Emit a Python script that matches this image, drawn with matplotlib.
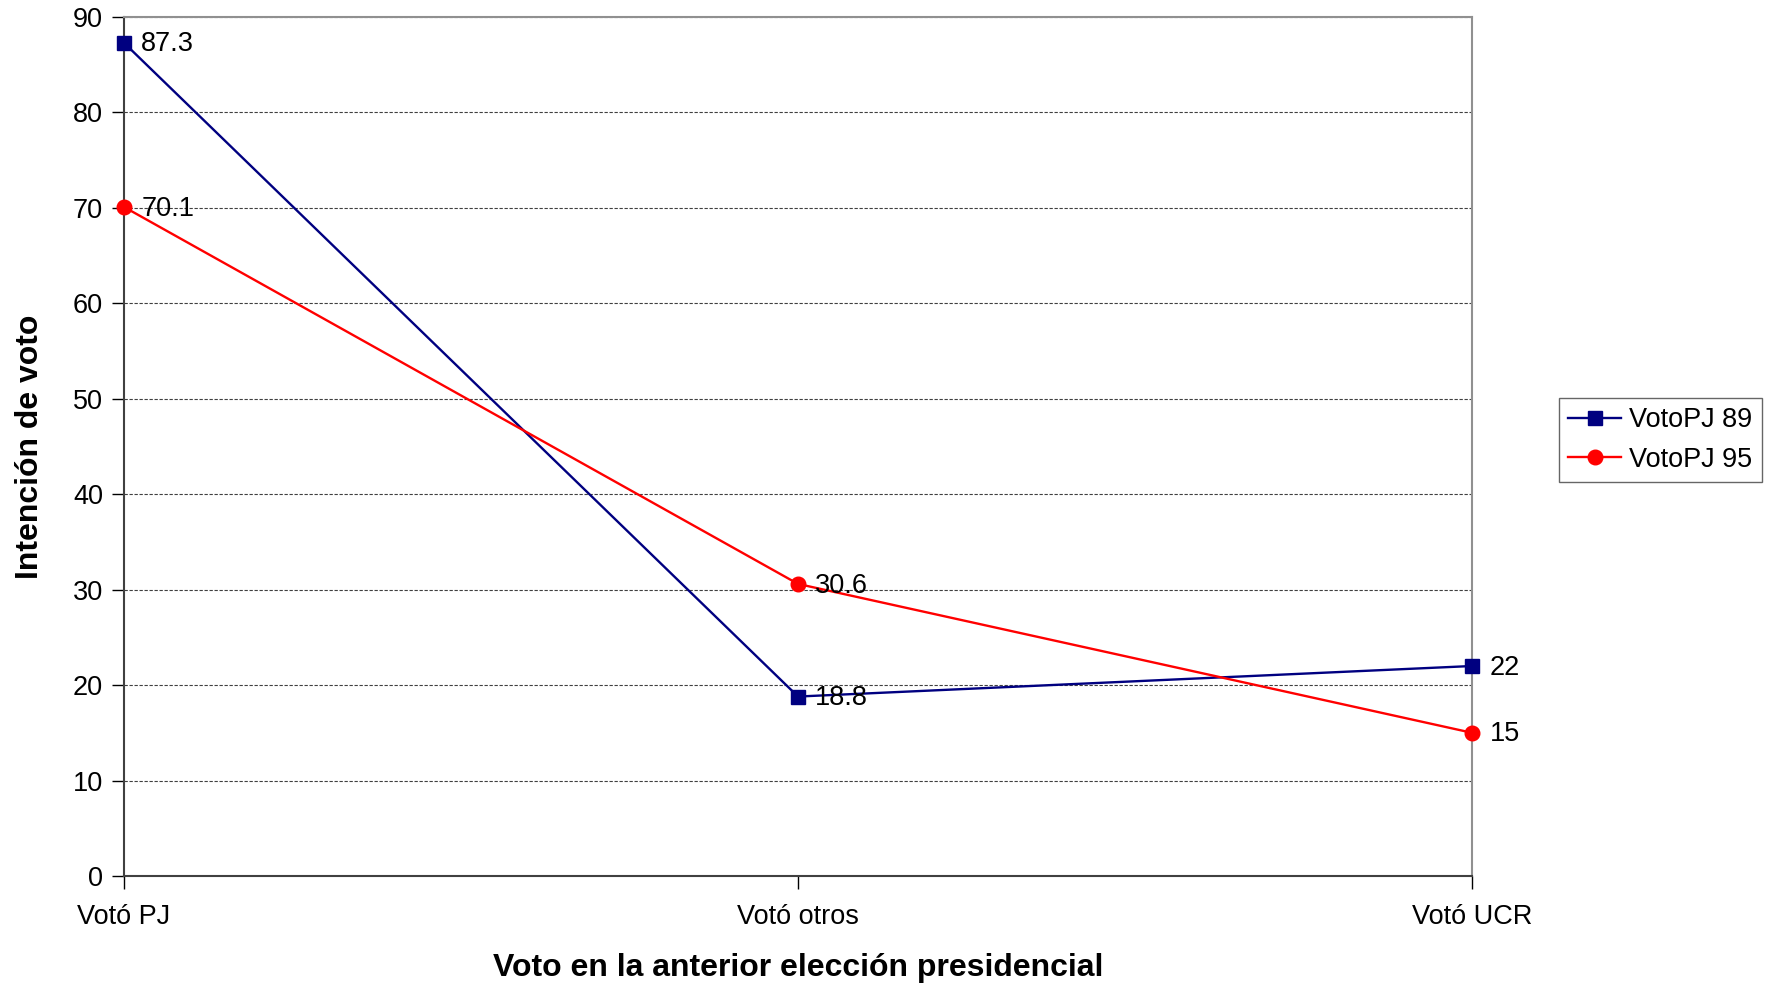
import matplotlib
matplotlib.use("Agg")
import matplotlib.pyplot as plt

plt.rcParams['font.family'] = ['Liberation Sans', 'DejaVu Sans']

categories = ["Votó PJ", "Votó otros", "Votó UCR"]
voto_pj_89 = [87.3, 18.8, 22]
voto_pj_95 = [70.1, 30.6, 15]
labels_89 = ["87.3", "18.8", "22"]
labels_95 = ["70.1", "30.6", "15"]
y_ticks = [0, 10, 20, 30, 40, 50, 60, 70, 80, 90]

FS = 19.5

fig = plt.figure(figsize=(17.71, 9.85), dpi=100)
ax = fig.add_axes([0.0700, 0.1107, 0.7612, 0.8720])

x = list(range(len(categories)))
l1, = ax.plot(x, voto_pj_89, color="#000080", lw=1.7, marker="s", ms=10.5,
              label="VotoPJ 89", zorder=4, clip_on=False)
l2, = ax.plot(x, voto_pj_95, color="#ff0000", lw=1.7, marker="o", ms=10.5,
              label="VotoPJ 95", zorder=4, clip_on=False)

for xi, yi, t in zip(x, voto_pj_89, labels_89):
    ax.annotate(t, (xi, yi), xytext=(12.5, -1.2), textcoords="offset points",
                va="center", ha="left", fontsize=FS, zorder=5)
for xi, yi, t in zip(x, voto_pj_95, labels_95):
    ax.annotate(t, (xi, yi), xytext=(12.5, -1.2), textcoords="offset points",
                va="center", ha="left", fontsize=FS, zorder=5)

ax.set_xlim(0, 2)
ax.set_ylim(0, 90)
ax.set_yticks(y_ticks)
ax.set_xticks(x)
ax.set_xticklabels(categories)
ax.tick_params(axis="y", direction="out", length=9, width=1, labelsize=FS, pad=6)
ax.tick_params(axis="x", direction="out", length=9, width=1, labelsize=FS, pad=11)

ax.yaxis.grid(True, linestyle=(0, (3, 1.5)), color="#404040", lw=0.8)
ax.set_axisbelow(True)

for side in ("top", "right"):
    ax.spines[side].set_color("#909090")
    ax.spines[side].set_linewidth(1.5)
for side in ("left", "bottom"):
    ax.spines[side].set_color("#404040")
    ax.spines[side].set_linewidth(1.5)

ax.set_ylabel("Intención de voto", fontsize=23, fontweight="bold", labelpad=20)
ax.set_xlabel("Voto en la anterior elección presidencial", fontsize=23,
              fontweight="bold", labelpad=17)

leg = fig.legend(handles=[l1, l2], loc="center left",
                 bbox_to_anchor=(1559 / 1771, 1 - 440 / 985),
                 fontsize=FS, frameon=True, fancybox=False,
                 edgecolor="#404040", handlelength=1.95, handletextpad=0.3,
                 borderpad=0.35, labelspacing=0.5, borderaxespad=0)
leg.get_frame().set_linewidth(1.0)

fig.savefig("out.png", dpi=100, facecolor="white")
